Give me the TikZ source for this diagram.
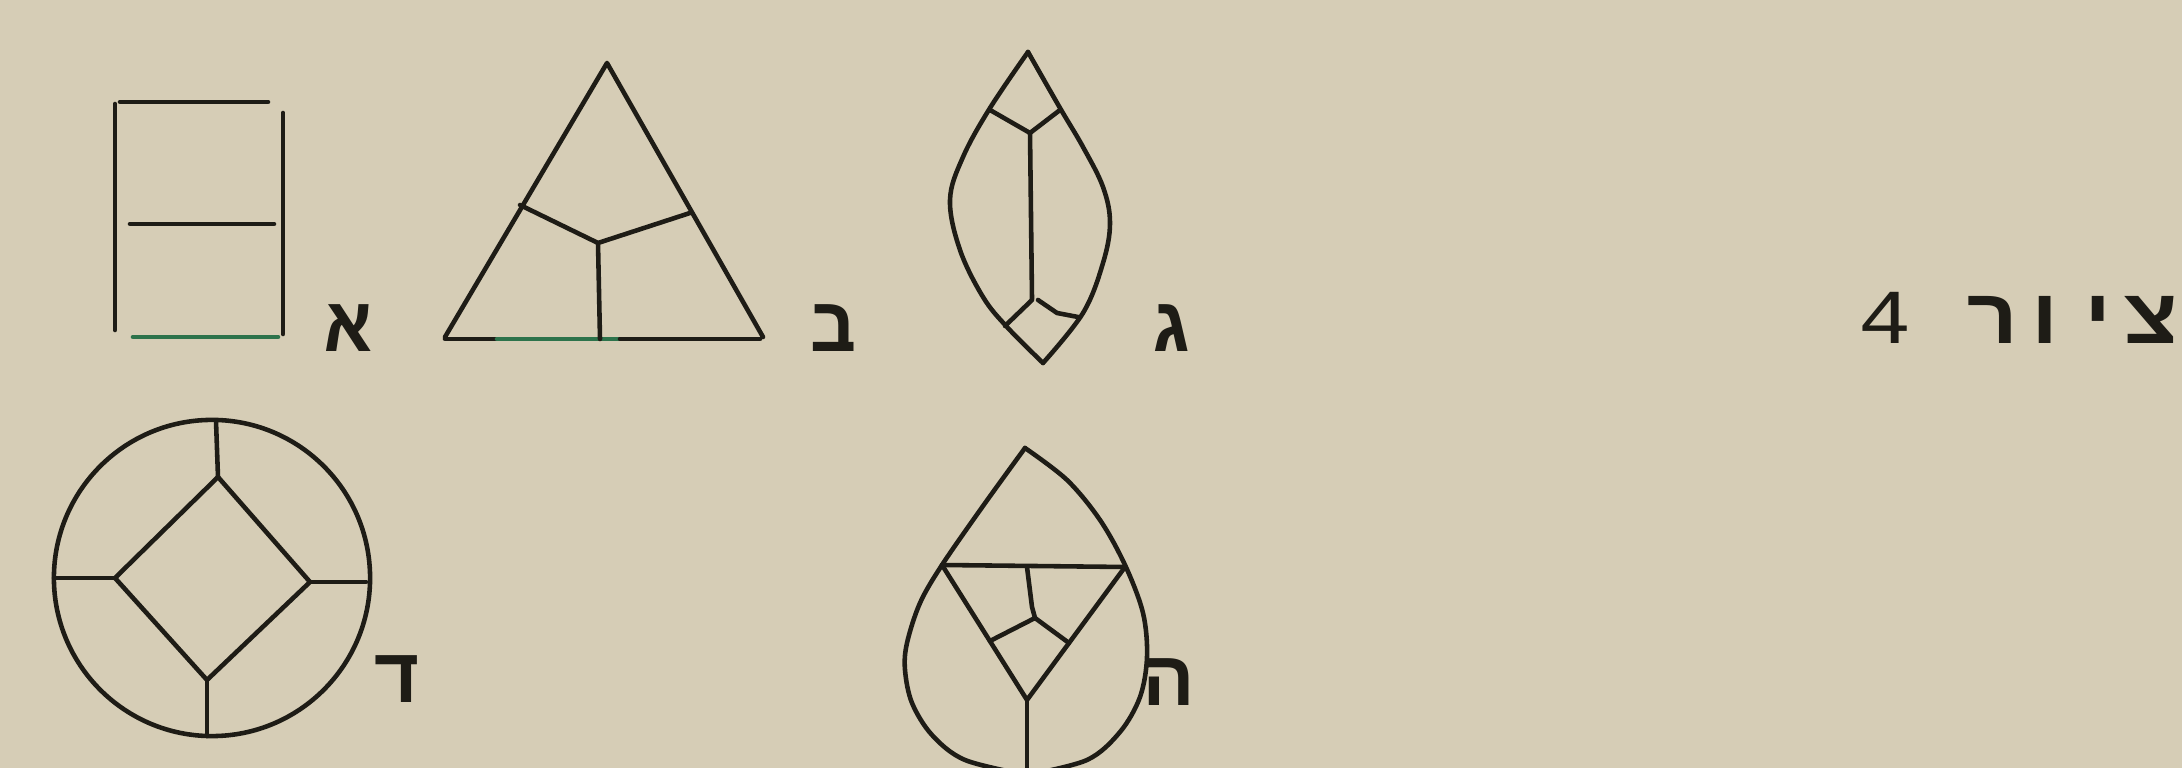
\documentclass[tikz,border=0pt]{standalone}
\usepackage{fontspec}
\newfontfamily\hebmono[Script=Hebrew]{Liberation Mono}
\TeXXeTstate=1
\definecolor{paper}{RGB}{214,205,182}
\definecolor{ink}{RGB}{30,28,22}
\definecolor{inkgreen}{RGB}{45,115,75}
\tikzset{
  shapeline/.style={draw=ink, line width=1.3pt, line cap=round, line join=round},
  lbl/.style={font=\hebmono\bfseries\fontsize{22}{26}\selectfont, text=ink, inner sep=0pt, anchor=base},
  titletext/.style={font=\hebmono\fontsize{26}{30}\selectfont, text=ink, inner sep=0pt, anchor=base west, xscale=0.97, yscale=0.85, transform shape}
}
\begin{document}
\begin{tikzpicture}[x=0.01cm,y=-0.01cm]
\fill[paper] (0,0) rectangle (2182,768);
\useasboundingbox (0,0) rectangle (2182,768);
\clip (0,0) rectangle (2182,768);

% --- rectangle (alef)
\draw[shapeline] (120,102) -- (268,102);
\draw[shapeline] (115,104) -- (115,330);
\draw[shapeline] (283,113) -- (283,334);
\draw[shapeline] (130,224) -- (274,224);
\draw[shapeline, draw=inkgreen] (133,337) -- (278,337);
\node[lbl] (alef) at (349,352) {\beginR א\endR};

% --- triangle (bet)
\draw[shapeline] (445,337) -- (607,63) -- (763,337);
\draw[shapeline] (445,339) -- (497,339);
\draw[shapeline, draw=inkgreen] (497,339) -- (620,339);
\draw[shapeline] (620,339) -- (760,339);
\draw[shapeline] (520,205) -- (598,243) -- (690,213);
\draw[shapeline] (598,243) -- (600,339);
\node[lbl] (bet) at (834,352) {\beginR ב\endR};

% --- marquise (gimel)
\draw[shapeline] plot[smooth, tension=0.6] coordinates {(1028,52) (990,108) (963,157) (950,200) (960,250) (983,297) (1007,327) (1043,363)};
\draw[shapeline] plot[smooth, tension=0.6] coordinates {(1028,52) (1060,108) (1083,147) (1103,187) (1110,223) (1103,263) (1083,313) (1043,363)};
\draw[shapeline] (990,110) -- (1030,133) -- (1060,110);
\draw[shapeline] (1030,133) -- (1032,299);
\draw[shapeline] (1032,300) -- (1005,326);
\draw[shapeline] (1038,300) -- (1057,313) -- (1078,317);
\node[lbl] (gimel) at (1172,352) {\beginR ג\endR};

% --- circle (dalet)
\draw[shapeline] (212,578) circle[radius=1.58cm];
\draw[shapeline] (218,477) -- (310,582) -- (207,680) -- (115,578) -- cycle;
\draw[shapeline] (218,477) -- (216,421);
\draw[shapeline] (207,680) -- (207,736);
\draw[shapeline] (115,578) -- (54,578);
\draw[shapeline] (310,582) -- (366,582);
\node[lbl] (dalet) at (398,703) {\beginR ד\endR};

% --- pear (he)
\draw[shapeline] plot[smooth, tension=0.55] coordinates {(1025,448) (983,506) (942,565) (920,603) (907,643) (905,670) (912,703) (932,735) (965,760) (1027,775)};
\draw[shapeline] plot[smooth, tension=0.55] coordinates {(1025,448) (1067,480) (1100,520) (1125,565) (1143,613) (1147,657) (1140,697) (1120,732) (1087,760) (1027,775)};
\draw[shapeline] (942,565) -- (1125,567);
\draw[shapeline] (942,565) -- (1027,700) -- (1125,567);
\draw[shapeline] (1027,567) -- (1032,607) -- (1035,618);
\draw[shapeline] (990,641) -- (1035,618) -- (1069,643);
\draw[shapeline] (1027,700) -- (1027,775);
\node[lbl] (he) at (1169,706) {\beginR ה\endR};

% --- title
\node[titletext] (title) at (1858,344) {\beginR{\bfseries ציור} 4\endR};
\end{tikzpicture}
\end{document}
